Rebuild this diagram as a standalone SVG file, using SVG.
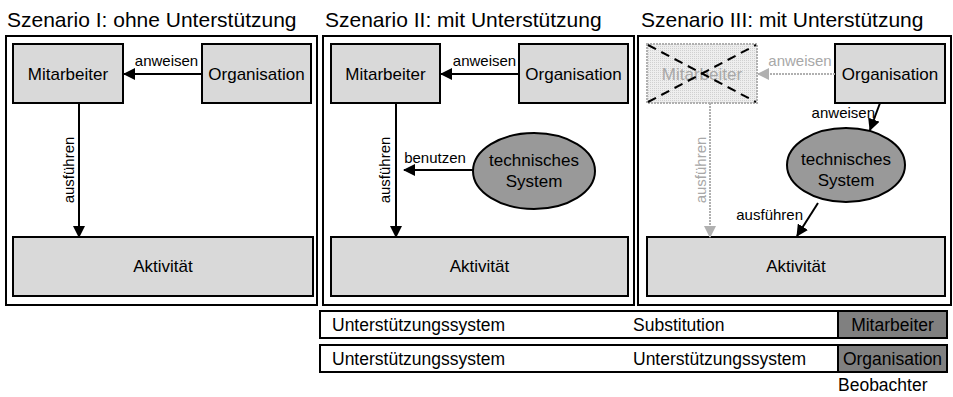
<svg xmlns="http://www.w3.org/2000/svg" width="953" height="397" viewBox="0 0 953 397">
<style>
text{font-family:"Liberation Sans",Arial,sans-serif;fill:#000}
.title{font-size:21px}
.lbl{font-size:17px;text-anchor:middle}
.edge{font-size:15px}
.mid{text-anchor:middle}
.frame{fill:#fff;stroke:#000;stroke-width:2}
.box{fill:#d9d9d9;stroke:#000;stroke-width:2}
.ell{fill:#999;stroke:#000;stroke-width:2}
.ln{stroke:#000;stroke-width:2;fill:none}
.gln{stroke:#b0b0b0;stroke-width:2;fill:none;stroke-dasharray:2,1}
.gray{fill:#a8a8a8}
.bar{fill:#fff;stroke:#000;stroke-width:2}
.dark{fill:#808080;stroke:#000;stroke-width:2}
.bt{font-size:17.5px}
</style>
<defs>
<marker id="ah" markerUnits="userSpaceOnUse" markerWidth="12" markerHeight="12" refX="11" refY="6" orient="auto">
<path d="M0,0 L12,6 L0,12 z" fill="#000"/>
</marker>
<marker id="gah" markerUnits="userSpaceOnUse" markerWidth="12" markerHeight="12" refX="11" refY="6" orient="auto">
<path d="M0,0 L12,6 L0,12 z" fill="#b0b0b0"/>
</marker>
<pattern id="dots" width="2" height="2" patternUnits="userSpaceOnUse">
<rect width="2" height="2" fill="#eeeeee"/>
<rect width="1" height="1" fill="#d0d0d0"/>
</pattern>
</defs>

<text class="title" x="7" y="27">Szenario I: ohne Unterstützung</text>
<text class="title" x="325" y="27">Szenario II: mit Unterstützung</text>
<text class="title" x="641" y="27">Szenario III: mit Unterstützung</text>

<rect class="frame" x="6" y="36" width="311" height="269"/>
<rect class="frame" x="323" y="36" width="311" height="269"/>
<rect class="frame" x="638" y="36" width="313" height="269"/>

<g id="s1-mitarbeiter"><rect class="box" x="13" y="44" width="110" height="59"/><text class="lbl" x="68" y="80">Mitarbeiter</text></g>
<g id="s1-organisation"><rect class="box" x="202" y="44" width="109" height="59"/><text class="lbl" x="256.5" y="80">Organisation</text></g>
<g id="s1-aktivitaet"><rect class="box" x="13" y="237" width="300" height="59"/><text class="lbl" x="163" y="272">Aktivität</text></g>

<g id="s2-mitarbeiter"><rect class="box" x="331" y="44" width="109" height="59"/><text class="lbl" x="385.5" y="80">Mitarbeiter</text></g>
<g id="s2-organisation"><rect class="box" x="519" y="44" width="109" height="59"/><text class="lbl" x="573.5" y="80">Organisation</text></g>
<g id="s2-system"><ellipse class="ell" cx="534" cy="171" rx="61" ry="38"/><text class="lbl" x="534" y="166">technisches</text><text class="lbl" x="534" y="187">System</text></g>
<g id="s2-aktivitaet"><rect class="box" x="331" y="237" width="297" height="59"/><text class="lbl" x="479.5" y="272">Aktivität</text></g>

<g id="s3-mitarbeiter"><rect x="647" y="44" width="110" height="59" fill="url(#dots)" stroke="#b0b0b0" stroke-width="2" stroke-dasharray="2,1"/><text class="lbl gray" x="702" y="80">Mitarbeiter</text>
<line x1="648" y1="45" x2="756" y2="102" stroke="#000" stroke-width="2" stroke-dasharray="9,6"/>
<line x1="648" y1="102" x2="756" y2="45" stroke="#000" stroke-width="2" stroke-dasharray="9,6"/></g>
<g id="s3-organisation"><rect class="box" x="835" y="44" width="110" height="59"/><text class="lbl" x="890" y="80">Organisation</text></g>
<g id="s3-system"><ellipse class="ell" cx="846" cy="165" rx="59" ry="37"/><text class="lbl" x="846" y="165">technisches</text><text class="lbl" x="846" y="186">System</text></g>
<g id="s3-aktivitaet"><rect class="box" x="647" y="237" width="298" height="59"/><text class="lbl" x="796" y="272">Aktivität</text></g>

<g id="connectors">
<line class="ln" x1="202" y1="74" x2="124" y2="74" marker-end="url(#ah)"/>
<text class="edge mid" x="166.5" y="66">anweisen</text>
<line class="ln" x1="79" y1="103" x2="79" y2="237" marker-end="url(#ah)"/>
<text class="edge mid" transform="translate(74,170) rotate(-90)">ausführen</text>

<line class="ln" x1="519" y1="74" x2="441" y2="74" marker-end="url(#ah)"/>
<text class="edge mid" x="484.5" y="66">anweisen</text>
<line class="ln" x1="396" y1="103" x2="396" y2="237" marker-end="url(#ah)"/>
<text class="edge mid" transform="translate(390,170) rotate(-90)">ausführen</text>
<line class="ln" x1="473" y1="170" x2="404" y2="170" marker-end="url(#ah)"/>
<text class="edge mid" x="435" y="163">benutzen</text>

<line class="gln" x1="835" y1="74" x2="758" y2="74" marker-end="url(#gah)"/>
<text class="edge mid gray" x="800" y="66">anweisen</text>
<line class="gln" x1="710" y1="103" x2="710" y2="237" marker-end="url(#gah)"/>
<text class="edge mid gray" transform="translate(706,170) rotate(-90)">ausführen</text>
<line class="ln" x1="880" y1="103" x2="870" y2="130" marker-end="url(#ah)"/>
<text class="edge" x="875" y="118" text-anchor="end">anweisen</text>
<line class="ln" x1="818" y1="203" x2="797" y2="236" marker-end="url(#ah)"/>
<text class="edge" x="803" y="220" text-anchor="end">ausführen</text>
</g>

<g id="bar1"><rect class="bar" x="320" y="311" width="627" height="27"/><rect class="dark" x="838" y="311" width="109" height="27"/>
<text class="bt" x="332" y="331">Unterstützungssystem</text><text class="bt" x="633" y="331">Substitution</text><text class="bt mid" x="892.5" y="331">Mitarbeiter</text></g>
<g id="bar2"><rect class="bar" x="320" y="345" width="627" height="27"/><rect class="dark" x="838" y="345" width="109" height="27"/>
<text class="bt" x="332" y="365">Unterstützungssystem</text><text class="bt" x="633" y="365">Unterstützungssystem</text><text class="bt mid" x="892.5" y="365">Organisation</text></g>
<text class="bt" x="838" y="391">Beobachter</text>
</svg>
